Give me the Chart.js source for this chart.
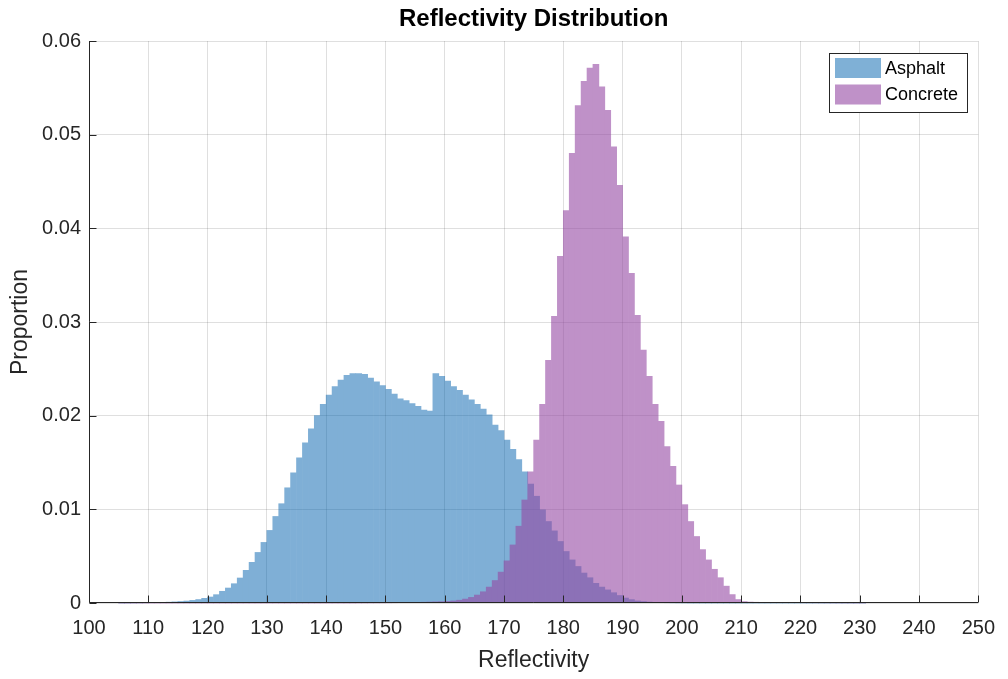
<!DOCTYPE html>
<html>
<head>
<meta charset="utf-8">
<script src="https://cdn.jsdelivr.net/npm/chart.js@4.4.1/dist/chart.umd.min.js"></script>
<style>
  html, body { margin: 0; padding: 0; background: #ffffff; }
  #wrap { width: 1008px; height: 679px; position: relative; }
</style>
</head>
<body>
<div id="wrap"><canvas id="c"></canvas></div>
<script>
// ---- Data (bin left edges, bin width = 1) ----
const binStarts = [
  105,106,107,108,109,110,111,112,113,114,
  115,116,117,118,119,120,121,122,123,124,
  125,126,127,128,129,130,131,132,133,134,
  135,136,137,138,139,140,141,142,143,144,
  145,146,147,148,149,150,151,152,153,154,
  155,156,157,158,159,160,161,162,163,164,
  165,166,167,168,169,170,171,172,173,174,
  175,176,177,178,179,180,181,182,183,184,
  185,186,187,188,189,190,191,192,193,194,
  195,196,197,198,199,200,201,202,203,204,
  205,206,207,208,209,210,211,212,213,214,
  215,216,217,218,219,220,221,222,223,224,
  225,226,227,228,229,230
];
const asphalt = [
  0.000005,0.000008,0.000012,0.000018,0.000026,0.000036,0.00005,0.00007,0.00009,0.00012,
  0.00016,0.00021,0.00028,0.00037,0.0005,0.00064,0.00089,0.00125,0.0016,0.00206,
  0.00267,0.00349,0.00434,0.0054,0.00647,0.00775,0.00924,0.0106,0.0123,0.0139,
  0.0155,0.0171,0.0186,0.0200,0.0212,0.0222,0.0231,0.0238,0.0243,0.0245,
  0.0245,0.0244,0.0240,0.0236,0.0232,0.0228,0.0223,0.0218,0.0216,0.0213,
  0.0210,0.0206,0.0205,0.0245,0.0242,0.0237,0.0231,0.0227,0.0222,0.0217,
  0.0212,0.0207,0.0201,0.0190,0.0184,0.0174,0.0164,0.0153,0.0140,0.0127,
  0.0114,0.00995,0.0087,0.0077,0.00657,0.0055,0.0046,0.0039,0.0032,0.0027,
  0.0021,0.0017,0.0014,0.0011,0.0008,0.00053,0.00036,0.00022,0.00015,0.0001,
  0.00007,0.00005,0.00003,0.00002,0.000012,0.000008,0,0,0,0,
  0,0,0,0,0,0,0,0,0,0,
  0,0,0,0,0,0,0,0,0,0,
  0,0,0,0,0,0
];
const concrete = [
  0,0,0,0,0,0,0,0,0,0,
  0,0,0,0,0,0,0,0,0,0,
  0,0,0,0,0,0,0,0,0,0,
  0,0,0,0,0,0,0,0,0,0,
  0.000005,0.000007,0.00001,0.000013,0.000017,0.000022,0.000028,0.000035,0.000045,0.000055,
  0.000065,0.00008,0.0001,0.00012,0.00014,0.00017,0.00022,0.0003,0.00042,0.0006,
  0.00085,0.0012,0.0017,0.0024,0.0033,0.0045,0.0062,0.0082,0.0110,0.0140,
  0.0174,0.0212,0.0259,0.0306,0.0370,0.0419,0.0480,0.0531,0.0557,0.0571,
  0.0575,0.0551,0.0526,0.0487,0.0446,0.0391,0.0352,0.0307,0.0270,0.0242,
  0.0212,0.0194,0.0167,0.0146,0.0126,0.0105,0.0087,0.0071,0.0057,0.0046,
  0.0036,0.0027,0.0018,0.0009,0.00037,0.00015,0.0001,0.00008,0.00007,0.00006,
  0.000055,0.00005,0.000045,0.00004,0.000035,0.00003,0.000028,0.000025,0.000022,0.00002,
  0.000017,0.000015,0.000012,0.00001,0.000008,0.000006
];
const seriesNames = ['Asphalt', 'Concrete'];
const xTicks = [100,110,120,130,140,150,160,170,180,190,200,210,220,230,240,250];
const yTicks = [0,0.01,0.02,0.03,0.04,0.05,0.06];
const chartTitle = 'Reflectivity Distribution';
const xLabel = 'Reflectivity';
const yLabel = 'Proportion';

// ---- Styles ----
const FONT = '"Liberation Sans", Arial, Helvetica, sans-serif';
const AXIS_COLOR = '#262626';
const GRID_COLOR = 'rgba(38,38,38,0.15)';
const BLUE_SOLID = 'rgb(0,97,173)', BLUE_ALPHA = 0.5;
const PURPLE_SOLID = 'rgb(148,72,163)', PURPLE_ALPHA = 0.6;
const BLUE = 'rgba(0,97,173,0.5)';
const PURPLE = 'rgba(148,72,163,0.6)';

Chart.defaults.font.family = FONT;
Chart.defaults.color = AXIS_COLOR;

const toPoints = vals => binStarts.map((b, i) => ({ x: b + 0.5, y: vals[i] }));

// Draw each histogram as one translucent layer (avoids seams between adjacent bars)
const layerPlugin = {
  id: 'layer',
  beforeDatasetDraw(chart, args) {
    const ctrl = args.meta.controller;
    if (!ctrl || !('_ctx' in ctrl)) return;
    if (!this.off) this.off = document.createElement('canvas');
    const off = this.off;
    off.width = chart.canvas.width; off.height = chart.canvas.height;
    const octx = off.getContext('2d');
    octx.setTransform(chart.ctx.getTransform());
    this.saved = ctrl._ctx;
    ctrl._ctx = octx;
    this.active = true;
  },
  afterDatasetDraw(chart, args) {
    if (!this.active) return;
    this.active = false;
    const ctrl = args.meta.controller;
    ctrl._ctx = this.saved;
    const ds = chart.data.datasets[args.index];
    const ctx = chart.ctx;
    ctx.save();
    ctx.setTransform(1, 0, 0, 1, 0, 0);
    ctx.globalAlpha = ds.layerAlpha || 1;
    ctx.drawImage(this.off, 0, 0);
    ctx.restore();
  }
};

const decor = {
  id: 'decor',
  afterDatasetsDraw(chart) {
    const { ctx, chartArea: ca, scales: { x, y } } = chart;
    ctx.save();
    ctx.strokeStyle = AXIS_COLOR;
    ctx.lineWidth = 1;
    const L = Math.round(ca.left) + 0.5, R = Math.round(ca.right);
    const T = Math.round(ca.top), B = Math.round(ca.bottom) - 0.5;
    ctx.beginPath();
    ctx.moveTo(L, T); ctx.lineTo(L, B); ctx.lineTo(R, B);
    xTicks.forEach(v => {
      const px = Math.round(x.getPixelForValue(v)) + 0.5;
      ctx.moveTo(px, B); ctx.lineTo(px, B - 7);
    });
    yTicks.forEach(v => {
      const py = Math.round(y.getPixelForValue(v)) + 0.5;
      ctx.moveTo(L, py); ctx.lineTo(L + 7, py);
    });
    ctx.stroke();
    ctx.restore();
  },
  afterDraw(chart) {
    const { ctx, chartArea: ca } = chart;
    ctx.save();
    // title
    ctx.fillStyle = '#000000';
    ctx.font = 'bold 24px ' + FONT;
    ctx.textAlign = 'center';
    ctx.textBaseline = 'middle';
    ctx.fillText(chartTitle, (ca.left + ca.right) / 2, 19);
    // legend
    const lx = 829.5, ly = 53.5, lw = 138, lh = 59;
    ctx.fillStyle = '#ffffff';
    ctx.fillRect(lx, ly, lw, lh);
    ctx.strokeStyle = AXIS_COLOR;
    ctx.lineWidth = 1;
    ctx.strokeRect(lx, ly, lw, lh);
    const sw = [BLUE, PURPLE];
    ctx.font = '18px ' + FONT;
    ctx.textAlign = 'left';
    seriesNames.forEach((name, i) => {
      const sy = 58 + i * 26.5;
      ctx.fillStyle = sw[i];
      ctx.fillRect(835, sy, 46, 20);
      ctx.fillStyle = '#000000';
      ctx.fillText(name, 885, sy + 11);
    });
    ctx.restore();
  }
};

new Chart(document.getElementById('c'), {
  type: 'bar',
  data: {
    datasets: [
      { label: seriesNames[1], data: toPoints(concrete), backgroundColor: PURPLE_SOLID, layerAlpha: PURPLE_ALPHA,
        borderWidth: 0, order: 0, barPercentage: 1, categoryPercentage: 1, grouped: false },
      { label: seriesNames[0], data: toPoints(asphalt), backgroundColor: BLUE_SOLID, layerAlpha: BLUE_ALPHA,
        borderWidth: 0, order: 1, barPercentage: 1, categoryPercentage: 1, grouped: false }
    ]
  },
  options: {
    responsive: true,
    maintainAspectRatio: false,
    animation: false,
    events: [],
    layout: { padding: { top: 41, right: 25, left: 0, bottom: 0 } },
    plugins: { legend: { display: false }, title: { display: false }, tooltip: { enabled: false } },
    scales: {
      x: {
        type: 'linear', min: 100, max: 250, offset: false,
        afterFit: s => { s.height = 76; },
        afterBuildTicks: s => { s.ticks = xTicks.map(v => ({ value: v })); },
        grid: { color: GRID_COLOR, drawTicks: false, lineWidth: 1, offset: false },
        border: { display: false },
        ticks: { font: { size: 20 }, color: AXIS_COLOR, padding: 13, maxRotation: 0, autoSkip: false },
        title: { display: true, text: xLabel, font: { size: 23 }, color: AXIS_COLOR, padding: { top: 0, bottom: 5 } }
      },
      y: {
        type: 'linear', min: 0, max: 0.06,
        afterFit: s => { s.width = 89; },
        afterBuildTicks: s => { s.ticks = yTicks.map(v => ({ value: v })); },
        grid: { color: GRID_COLOR, drawTicks: false, lineWidth: 1 },
        border: { display: false },
        ticks: { font: { size: 20 }, color: AXIS_COLOR, padding: 8,
                 callback: v => (v === 0 ? '0' : v.toFixed(2)) },
        title: { display: true, text: yLabel, font: { size: 23 }, color: AXIS_COLOR, padding: { top: 7, bottom: 0 } }
      }
    }
  },
  plugins: [layerPlugin, decor]
});
</script>
</body>
</html>
